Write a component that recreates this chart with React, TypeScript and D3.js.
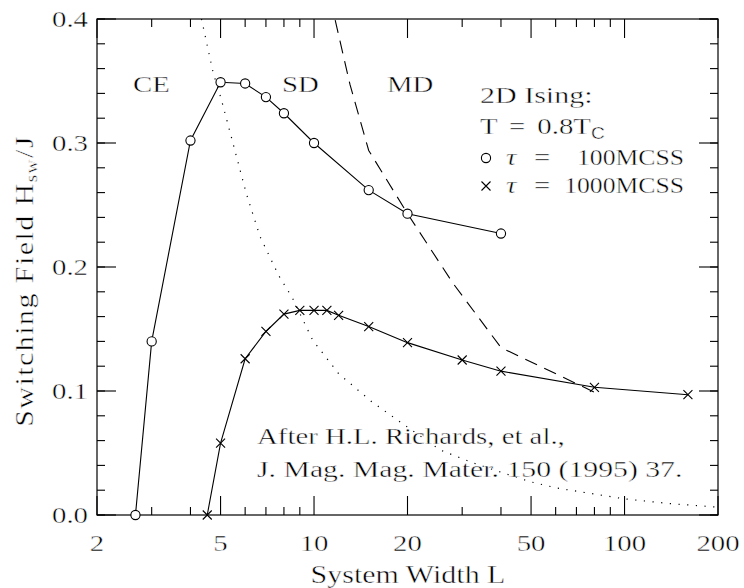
import React, { useEffect, useRef } from 'react';
import * as d3 from 'd3';

// tau = 100 MCSS (circles)
const widths100 = [2.66, 3, 4, 5, 6, 7, 8, 10, 15, 20, 40];
const field100 = [0, 0.14, 0.302, 0.349, 0.348, 0.337, 0.324, 0.3, 0.262, 0.243, 0.227];

// tau = 1000 MCSS (crosses)
const widths1000 = [4.53, 5, 6, 7, 8, 9, 10, 11, 12, 15, 20, 30, 40, 80, 160];
const field1000 = [0, 0.058, 0.126, 0.148, 0.162, 0.165, 0.165, 0.165, 0.161, 0.152, 0.139, 0.125, 0.116, 0.103, 0.097];

// SD / MD crossover (dashed)
const mdWidths = [11.7, 13.06, 15, 20, 28, 40, 80];
const mdField = [0.399, 0.347, 0.294, 0.243, 0.187, 0.135, 0.099];

// CE / SD crossover (dotted)
const ceWidths = [4.34, 4.73, 5.03, 5.48, 6.04, 6.7, 7.7, 8.52, 9.9, 12, 15.4, 18.9, 25.5, 32.6, 40.7, 49.6, 60.4, 100, 140, 196];
const ceField = [0.4, 0.357, 0.335, 0.3, 0.26, 0.2245, 0.193, 0.175, 0.141, 0.114, 0.091, 0.0752, 0.0524, 0.0419, 0.0339, 0.0269, 0.0218, 0.013, 0.0092, 0.0065];

const xMajor = [2, 5, 10, 20, 50, 100, 200];
const xMinor = [3, 4, 6, 7, 8, 9, 30, 40, 60, 70, 80, 90];
const yMajor = [0, 0.1, 0.2, 0.3, 0.4];
const yLabels = ['0.0', '0.1', '0.2', '0.3', '0.4'];
const yMinor = d3.range(0, 0.401, 0.02);

const FONT = 'Liberation Serif';

export default function App() {
  const ref = useRef<SVGSVGElement>(null);

  useEffect(() => {
    const svg = d3.select(ref.current);
    svg.selectAll('*').remove();

    const left = 97, right = 718, top = 19, bottom = 515;
    const x = d3.scaleLog().domain([2, 200]).range([left, right]);
    const y = d3.scaleLinear().domain([0, 0.4]).range([bottom, top]);

    // the original lettering is wider and lighter than Times, so stretch it and thin it a little
    const text = (tx: number, ty: number, s: string, anchor = 'start', size = 24, sx = 1.2, extra = '') =>
      svg.append('text').attr('transform', `translate(${tx},${ty}) ${extra} scale(${sx},1)`)
        .attr('text-anchor', anchor).attr('font-family', FONT).attr('font-size', size)
        .attr('fill', '#000').attr('stroke', '#fff').attr('stroke-width', 0.45).text(s);

    svg.append('defs').append('clipPath').attr('id', 'plot')
      .append('rect').attr('x', left).attr('y', top).attr('width', right - left).attr('height', bottom - top);

    // frame
    svg.append('rect').attr('x', left).attr('y', top).attr('width', right - left).attr('height', bottom - top)
      .attr('fill', 'none').attr('stroke', '#000').attr('stroke-width', 1.2);

    const ticks = svg.append('g').attr('stroke', '#000').attr('stroke-width', 1.1);
    const vtick = (v: number, len: number) => {
      ticks.append('line').attr('x1', x(v)).attr('x2', x(v)).attr('y1', bottom).attr('y2', bottom - len);
      ticks.append('line').attr('x1', x(v)).attr('x2', x(v)).attr('y1', top).attr('y2', top + len);
    };
    const htick = (v: number, len: number) => {
      ticks.append('line').attr('y1', y(v)).attr('y2', y(v)).attr('x1', left).attr('x2', left + len);
      ticks.append('line').attr('y1', y(v)).attr('y2', y(v)).attr('x1', right).attr('x2', right - len);
    };
    xMajor.forEach(v => vtick(v, 19));
    xMinor.forEach(v => vtick(v, 8));
    yMinor.forEach(v => htick(v, 8));
    yMajor.forEach(v => htick(v, 19));

    // tick labels
    xMajor.forEach(v => text(x(v), 551, String(v), 'middle'));
    yMajor.forEach((v, i) => text(88, y(v) + 8, yLabels[i], 'end'));

    // axis titles
    text(408, 583, 'System Width L', 'middle', 25);
    const yt = text(33, 281, '', 'middle', 25, 1.2, 'rotate(-90)').attr('letter-spacing', 1.2);
    yt.append('tspan').text('Switching Field H');
    yt.append('tspan').attr('font-size', 16).attr('dy', 4).text('sw');
    yt.append('tspan').attr('dy', -4).text('/J');

    const plot = svg.append('g').attr('clip-path', 'url(#plot)');
    const line = d3.line<[number, number]>().x(d => x(d[0])).y(d => y(d[1]));

    plot.append('path').datum(ceWidths.map((w, i) => [w, ceField[i]] as [number, number]))
      .attr('d', line).attr('fill', 'none').attr('stroke', '#000').attr('stroke-width', 1.2)
      .attr('stroke-dasharray', '1.2 7.5');
    plot.append('path').datum(mdWidths.map((w, i) => [w, mdField[i]] as [number, number]))
      .attr('d', line).attr('fill', 'none').attr('stroke', '#000').attr('stroke-width', 1.1)
      .attr('stroke-dasharray', '13 8');
    plot.append('path').datum(widths100.map((w, i) => [w, field100[i]] as [number, number]))
      .attr('d', line).attr('fill', 'none').attr('stroke', '#000').attr('stroke-width', 1.1);
    plot.append('path').datum(widths1000.map((w, i) => [w, field1000[i]] as [number, number]))
      .attr('d', line).attr('fill', 'none').attr('stroke', '#000').attr('stroke-width', 1.1);

    const circle = (g: any, cx: number, cy: number) =>
      g.append('circle').attr('cx', cx).attr('cy', cy).attr('r', 4.6)
        .attr('fill', '#fff').attr('stroke', '#000').attr('stroke-width', 1.1);
    const cross = (g: any, cx: number, cy: number) =>
      g.append('path').attr('d', `M${cx - 4.5},${cy - 4.5}L${cx + 4.5},${cy + 4.5}M${cx - 4.5},${cy + 4.5}L${cx + 4.5},${cy - 4.5}`)
        .attr('stroke', '#000').attr('stroke-width', 1.1);

    const marks = svg.append('g');
    widths100.forEach((w, i) => circle(marks, x(w), y(field100[i])));
    widths1000.forEach((w, i) => cross(marks, x(w), y(field1000[i])));

    // region labels
    text(133, 92, 'CE');
    text(282, 92, 'SD');
    text(387, 92, 'MD');

    // legend
    text(480, 103, '2D Ising:', 'start', 24, 1.25);
    const t = text(480, 134, 'T = 0.8T').attr('word-spacing', 4);
    t.append('tspan').attr('font-family', 'Liberation Sans').attr('font-size', 16).attr('dy', 5).text('C');
    circle(svg, 486, 158);
    cross(svg, 486, 186);
    [165, 193].forEach(by => {
      text(506, by, 'τ').attr('font-style', 'italic');
      text(534, by, '=');
    });
    text(684, 165, '100MCSS', 'end', 24, 1.07);
    text(684, 193, '1000MCSS', 'end', 24, 1.07);

    // citation
    text(257, 444, 'After H.L. Richards, et al.,');
    text(257, 477, 'J. Mag. Mag. Mater. 150 (1995) 37.', 'start', 24, 1.24);
  }, []);

  return (
    <div style={{ position: 'absolute', left: 0, top: 0 }}>
      <svg ref={ref} width={744} height={588} style={{ display: 'block', background: '#fff' }} />
    </div>
  );
}
